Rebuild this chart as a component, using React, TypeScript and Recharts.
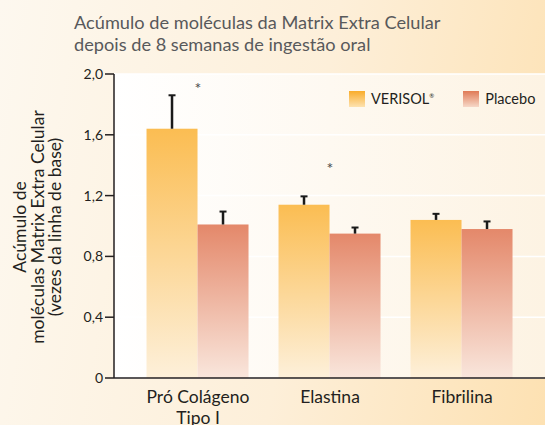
import React from 'react';
import {
  BarChart,
  Bar,
  XAxis,
  YAxis,
  CartesianGrid,
  ReferenceDot,
} from 'recharts';

// valores (vezes da linha de base)
const categories = ['Pró Colágeno Tipo I', 'Elastina', 'Fibrilina'];
const categoryLines = [['Pró Colágeno', 'Tipo I'], ['Elastina'], ['Fibrilina']];
const verisol = [1.64, 1.14, 1.04];
const verisolErr = [0.22, 0.055, 0.04];
const placebo = [1.01, 0.95, 0.98];
const placeboErr = [0.085, 0.04, 0.05];
const yTicks = [0, 0.4, 0.8, 1.2, 1.6, 2.0];

// asteriscos de significância
const sigCats = ['Pró Colágeno Tipo I', 'Elastina'];
const sigY = [1.93, 1.4];

const FONT = 'Lato, "Open Sans", sans-serif';
const INK = '#231f20';

const data = categories.map((c, i) => ({
  name: c,
  verisol: verisol[i],
  verisolErr: verisolErr[i],
  placebo: placebo[i],
  placeboErr: placeboErr[i],
}));

// barra com gradiente + barra de erro só para cima
const makeShape = (gradId: string, key: string, errKey: string) => (props: any) => {
  const { x, y, width, height, payload } = props;
  const k = height / payload[key];
  const top = y - payload[errKey] * k;
  const cx = x + width / 2;
  return (
    <g>
      <rect x={x} y={y} width={width} height={height} fill={`url(#${gradId})`} />
      <line x1={cx} x2={cx} y1={y} y2={top} stroke="#1a1a1a" strokeWidth={2.5} />
      <line x1={cx - 3.5} x2={cx + 3.5} y1={top} y2={top} stroke="#1a1a1a" strokeWidth={2} />
    </g>
  );
};

const CatTick = ({ x, y, payload }: any) => {
  const lines = categoryLines[categories.indexOf(payload.value)] || [payload.value];
  return (
    <text x={x} y={y + 17} textAnchor="middle" fontSize={17.5} fontFamily={FONT} fill={INK}>
      {lines.map((l, i) => (
        <tspan key={l} x={x} dy={i === 0 ? 0 : 21}>
          {l}
        </tspan>
      ))}
    </text>
  );
};

const YLabel = ({ viewBox }: any) => {
  const cy = viewBox.y + viewBox.height / 2 + 1;
  const lines = ['Acúmulo de', 'moléculas Matrix Extra Celular', '(vezes da linha de base)'];
  const xs = [26, 43.5, 61];
  return (
    <g>
      {lines.map((t, i) => (
        <text
          key={t}
          x={xs[i]}
          y={cy}
          transform={`rotate(-90 ${xs[i]} ${cy})`}
          textAnchor="middle"
          fontSize={17.5}
          fontFamily={FONT}
          fill={INK}
        >
          {t}
        </text>
      ))}
    </g>
  );
};

const Swatch = ({ from, to }: { from: string; to: string }) => (
  <span
    style={{
      display: 'inline-block',
      width: 16,
      height: 16,
      background: `linear-gradient(to bottom, ${from}, ${to})`,
    }}
  />
);

export default function App() {
  return (
    <div
      style={{
        position: 'absolute',
        left: 0,
        top: 0,
        width: 545,
        height: 425,
        overflow: 'hidden',
        background: 'linear-gradient(100deg, #fdf8ef 0%, #fdefd9 55%, #fde1b2 100%)',
        fontFamily: FONT,
      }}
    >
      <div
        style={{
          position: 'absolute',
          left: 74,
          top: 11,
          fontSize: 18.2,
          lineHeight: '22px',
          color: '#58595b',
        }}
      >
        Acúmulo de moléculas da Matrix Extra Celular
        <br />
        depois de 8 semanas de ingestão oral
      </div>

      <BarChart
        width={545}
        height={425}
        data={data}
        margin={{ top: 74, right: 0, left: 54, bottom: 7 }}
        barCategoryGap="11%"
        barGap={0}
      >
        <defs>
          <linearGradient id="gVer" x1="0" y1="0" x2="0" y2="1">
            <stop offset="0%" stopColor="#fbbd52" />
            <stop offset="100%" stopColor="#fdf0da" />
          </linearGradient>
          <linearGradient id="gPla" x1="0" y1="0" x2="0" y2="1">
            <stop offset="0%" stopColor="#e4886a" />
            <stop offset="100%" stopColor="#f9e6dc" />
          </linearGradient>
          <linearGradient id="gPlot" x1="0" y1="0" x2="1" y2="0">
            <stop offset="0%" stopColor="#ffffff" />
            <stop offset="100%" stopColor="#fdf3e3" />
          </linearGradient>
        </defs>
        <CartesianGrid vertical={false} stroke="#ffffff" strokeWidth={1.5} fill="url(#gPlot)" />
        <XAxis
          dataKey="name"
          height={40}
          padding={{ left: 18, right: 17 }}
          tickLine={false}
          axisLine={{ stroke: INK, strokeWidth: 1.5 }}
          tick={<CatTick />}
          interval={0}
        />
        <YAxis
          width={60}
          domain={[0, 2]}
          ticks={yTicks}
          tickSize={9}
          tickFormatter={(v: number) => (v === 0 ? '0' : v.toFixed(1).replace('.', ','))}
          tick={{ fill: INK, fontSize: 14, fontFamily: FONT }}
          tickLine={{ stroke: INK, strokeWidth: 1.5 }}
          axisLine={{ stroke: INK, strokeWidth: 1.5 }}
          label={<YLabel />}
        />
        <Bar
          dataKey="verisol"
          isAnimationActive={false}
          shape={makeShape('gVer', 'verisol', 'verisolErr')}
        />
        <Bar
          dataKey="placebo"
          isAnimationActive={false}
          shape={makeShape('gPla', 'placebo', 'placeboErr')}
        />
        {sigCats.map((c, i) => (
          <ReferenceDot
            key={c}
            x={c}
            y={sigY[i]}
            r={0}
            shape={(p: any) => (
              <text
                x={p.cx}
                y={p.cy + 9}
                textAnchor="middle"
                fontSize={16}
                fontFamily={FONT}
                fill="#4a4a4a"
              >
                *
              </text>
            )}
          />
        ))}
      </BarChart>

      <div
        style={{
          position: 'absolute',
          left: 349,
          top: 90,
          display: 'flex',
          alignItems: 'center',
          fontSize: 14.5,
          color: INK,
        }}
      >
        <Swatch from="#f9ac2a" to="#fde2b0" />
        <span style={{ marginLeft: 6 }}>
          VERISOL<sup style={{ fontSize: 6 }}>®</sup>
        </span>
        <span style={{ marginLeft: 29, display: 'inline-flex' }}>
          <Swatch from="#e07a56" to="#f6d8c8" />
        </span>
        <span style={{ marginLeft: 6 }}>Placebo</span>
      </div>
    </div>
  );
}
